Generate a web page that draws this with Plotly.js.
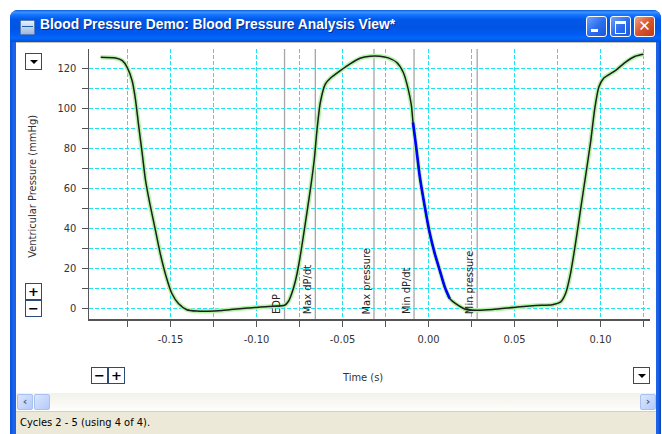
<!DOCTYPE html>
<html><head><meta charset="utf-8">
<script src="https://cdn.plot.ly/plotly-3.0.1.min.js"></script>
<style>
html,body{margin:0;padding:0;background:#fff;}
body{width:662px;height:434px;overflow:hidden;position:relative;font-family:Tahoma,"DejaVu Sans Condensed","Liberation Sans",sans-serif;}
.abs{position:absolute;}
#win{left:10px;top:10px;width:651px;height:440px;background:linear-gradient(90deg,#0a4fd6 0,#1a63ea 3px,#1a63ea 648px,#0a3fb8 651px);border-radius:8px 8px 0 0;z-index:0;}
#titlebar{left:10px;top:10px;width:651px;height:32px;border-radius:8px 8px 0 0;background:linear-gradient(180deg,#0a5fd8 0%,#3d92ff 7%,#1474ff 15%,#0058e8 30%,#0054e3 55%,#005bf2 75%,#0667fc 88%,#0050d8 100%);z-index:1;}
#ttext{left:40px;top:17px;color:#fff;font:bold 13.8px "Liberation Sans",Arial,sans-serif;text-shadow:1px 1px 0 #0b2a8c;z-index:2;white-space:nowrap;}
#icon{left:20px;top:20px;width:13px;height:13px;background:linear-gradient(180deg,#e8f0fa,#9cb9e0);border:1px solid #5a7fb8;z-index:2;border-radius:1px;}
#icon div{position:absolute;left:1px;top:5px;width:11px;height:3px;border-top:1px solid #1d5fb0;}
.wbtn{top:16px;width:21px;height:21px;border:1px solid #fff;border-radius:3px;box-sizing:border-box;z-index:2;background:linear-gradient(135deg,#6fa2fc 0%,#2d6ff0 50%,#1a56d8 100%);}
#bclose{background:linear-gradient(135deg,#f0a285 0%,#d8532e 50%,#c23a15 100%);}
#content{left:16px;top:42px;width:640px;height:351px;background:#fff;border-top:1px solid #c8c4b4;z-index:1;}
.cbtn{width:15px;height:15px;border:1px solid #2b4a78;background:#fff;box-sizing:content-box;z-index:3;color:#000;font:bold 13px "DejaVu Sans",sans-serif;line-height:15px;text-align:center;}
.tri{position:absolute;left:4px;top:6px;width:0;height:0;border-left:4px solid transparent;border-right:4px solid transparent;border-top:4px solid #000;}
#scroll{left:16px;top:393px;width:640px;height:18px;background:linear-gradient(180deg,#f2f1ea,#fefefb);z-index:1;}
.sbtn{top:394px;width:16px;height:16px;border-radius:2px;background:linear-gradient(135deg,#dbe6fe,#b4cafa);border:1px solid #a9c0f2;box-sizing:border-box;z-index:2;color:#4d6185;font:bold 11px "DejaVu Sans",sans-serif;line-height:14px;text-align:center;}
#status{left:16px;top:411px;width:640px;height:23px;background:#ece9d8;border-top:1px solid #d5d0bc;z-index:1;}
#stext{left:20px;top:416px;font:11px Tahoma,"DejaVu Sans Condensed","Liberation Sans",sans-serif;color:#000;z-index:2;}
#chart{left:0;top:0;width:662px;height:434px;z-index:2;}
</style>
</head><body>
<div id="win" class="abs"></div>
<div id="titlebar" class="abs"></div>
<div id="icon" class="abs"><div></div></div>
<div id="ttext" class="abs">Blood Pressure Demo: Blood Pressure Analysis View*</div>
<div class="abs wbtn" style="left:586px;"><div style="position:absolute;left:4px;top:12px;width:7px;height:3px;background:#fff;"></div></div>
<div class="abs wbtn" style="left:610px;"><div style="position:absolute;left:4px;top:4px;width:9px;height:9px;border:1px solid #fff;border-top:3px solid #fff;"></div></div>
<div id="bclose" class="abs wbtn" style="left:634px;color:#fff;font:bold 15px 'DejaVu Sans',sans-serif;text-align:center;line-height:19px;">✕</div>
<div id="content" class="abs"></div>
<div id="scroll" class="abs"></div>
<div class="abs sbtn" style="left:17px;">‹</div>
<div class="abs sbtn" style="left:34px;"></div>
<div class="abs sbtn" style="left:640px;">›</div>
<div id="status" class="abs"></div>
<div id="stext" class="abs">Cycles 2 - 5 (using 4 of 4).</div>
<div class="abs cbtn" style="left:25px;top:53px;"><div class="tri"></div></div>
<div class="abs cbtn" style="left:25px;top:283px;">+</div>
<div class="abs cbtn" style="left:25px;top:300px;">−</div>
<div class="abs cbtn" style="left:91px;top:367px;">−</div>
<div class="abs cbtn" style="left:108px;top:367px;">+</div>
<div class="abs cbtn" style="left:633px;top:367px;"><div class="tri"></div></div>
<div id="chart" class="abs"></div>
<script>
// ---- data ----
const timeS = [-0.1906,-0.182,-0.178,-0.1752,-0.1723,-0.1704,-0.1685,-0.1665,-0.1646,-0.1621,-0.1588,-0.156,-0.1525,-0.1492,-0.1454,-0.1405,-0.1348,-0.128,-0.12,-0.1149,-0.105,-0.0976,-0.0879,-0.0837,-0.0815,-0.0795,-0.0773,-0.0754,-0.0735,-0.0716,-0.0687,-0.0664,-0.0648,-0.0629,-0.060,-0.0571,-0.0513,-0.0456,-0.0398,-0.034,-0.0282,-0.0234,-0.0186,-0.0147,-0.0118,-0.0099,-0.009,-0.007,-0.0051,-0.0022,0.0007,0.0036,0.0065,0.0094,0.0123,0.0171,0.0219,0.0277,0.0373,0.0517,0.0624,0.072,0.0768,0.0797,0.0826,0.0855,0.0884,0.0913,0.0942,0.0966,0.099,0.1018,0.1086,0.1144,0.1202,0.125];
const pressure = [125.6,125.2,123.9,120.6,113.9,104.7,91.3,77.9,64.5,52.8,39.3,27.6,15.9,7.5,2.5,-0.6,-1.3,-1.4,-1.0,-0.5,0.2,0.8,1.2,1.6,3.5,7.5,14.0,22.0,32.0,42.7,59.4,74.5,89.6,103.0,112.2,115.1,118.9,122.3,125.1,126.1,126.1,125.3,123.1,118.1,109.7,101.3,93.0,79.5,66.1,51.1,37.7,27.6,19.2,10.9,5.0,1.7,-0.5,-0.85,-0.5,0.8,1.5,1.9,3.3,7.5,17.6,32.7,49.4,66.1,82.9,99.6,110.6,115.1,118.9,123.1,126.1,127.1];
const segmentStart = -0.009;   // Min dP/dt
const segmentEnd = 0.0123;     // end of highlighted relaxation segment
const markerNames = ["EDP","Max dP/dt","Max pressure","Min dP/dt","Min pressure"];
const markerTimes = [-0.0837,-0.0658,-0.0317,-0.0084,0.0283];
const xTickVals = [-0.175,-0.15,-0.125,-0.10,-0.075,-0.05,-0.025,0.00,0.025,0.05,0.075,0.10,0.125];
const xTickText = ["","-0.15","","-0.10","","-0.05","","0.00","","0.05","","0.10",""];
const yTickVals = [0,10,20,30,40,50,60,70,80,90,100,110,120,130];
const yTickText = ["0","","20","","40","","60","","80","","100","","120",""];
const yTitle = "Ventricular Pressure (mmHg)";
const xTitle = "Time (s)";

const FONT = 'Tahoma, "DejaVu Sans Condensed", "Liberation Sans", sans-serif';
const GRID = '#1ee4f0';
const segT = [], segP = [];
timeS.forEach((t,i)=>{ if(t>=segmentStart && t<=segmentEnd){segT.push(t);segP.push(pressure[i]);} });

const traces = [
  {x:timeS,y:pressure,mode:'lines',line:{color:'#b4f4a8',width:4.5,shape:'spline',smoothing:0.6},hoverinfo:'skip'},
  {x:timeS,y:pressure,mode:'lines',line:{color:'#1e1e1e',width:1.5,shape:'spline',smoothing:0.6}},
  {x:segT,y:segP,mode:'lines',line:{color:'#0000ff',width:2.6,shape:'spline',smoothing:0.6}}
];

const shapes = markerTimes.map(t=>({type:'line',xref:'x',yref:'paper',x0:t,x1:t,y0:0,y1:1,layer:'between',line:{color:'#a6a6a6',width:1.3}}));
const annotations = markerNames.map((n,i)=>({x:markerTimes[i],xref:'x',y:0.015,yref:'paper',text:n,textangle:-90,xanchor:'right',yanchor:'bottom',showarrow:false,xshift:0,borderpad:0,font:{family:FONT,size:11,color:'#222'}}));
annotations.push({x:-0.0998,xref:'paper',y:0.49,yref:'paper',text:yTitle,textangle:-90,showarrow:false,xanchor:'center',yanchor:'middle',font:{family:FONT,size:11,color:'#333'}});
annotations.push({x:0.487,xref:'paper',y:-0.215,yref:'paper',text:xTitle,showarrow:false,xanchor:'center',yanchor:'middle',font:{family:FONT,size:11,color:'#333'}});

const axisCommon = {ticks:'outside',ticklen:6,tickwidth:1.3,tickcolor:'#555',showline:true,linecolor:'#555',linewidth:1.5,
  showgrid:true,gridcolor:GRID,griddash:'4px,2px',gridwidth:1,zeroline:false,tickmode:'array'};
const layout = {
  width:662,height:434,
  margin:{l:89,r:12,t:49,b:115,pad:0},
  paper_bgcolor:'rgba(0,0,0,0)',plot_bgcolor:'rgba(0,0,0,0)',
  showlegend:false,
  font:{family:FONT,size:11,color:'#333'},
  xaxis:Object.assign({},axisCommon,{range:[-0.197384,0.128779],tickvals:xTickVals,ticktext:xTickText,ticklabelstandoff:3}),
  yaxis:Object.assign({},axisCommon,{range:[-5.25,129.75],tickvals:yTickVals,ticktext:yTickText,ticklabelstandoff:3}),
  shapes:shapes,
  annotations:annotations
};
Plotly.newPlot('chart',traces,layout,{displayModeBar:false,staticPlot:true});
</script>
</body></html>
